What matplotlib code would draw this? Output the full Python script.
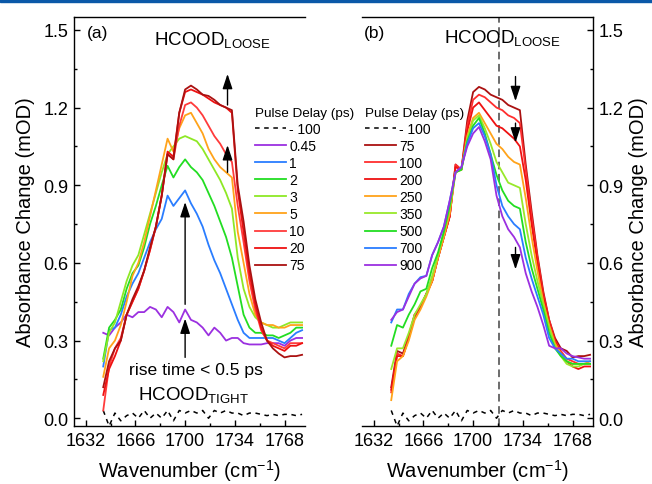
import numpy as np
import matplotlib
matplotlib.use('Agg')
import matplotlib.pyplot as plt
from matplotlib.ticker import MultipleLocator, FormatStrFormatter
from matplotlib.patches import Rectangle

plt.rcParams['font.family'] = ['Liberation Sans', 'DejaVu Sans']
plt.rcParams['mathtext.fontset'] = 'custom'
plt.rcParams['mathtext.rm'] = 'Liberation Sans'
plt.rcParams['mathtext.it'] = 'Liberation Sans:italic'
plt.rcParams['mathtext.bf'] = 'Liberation Sans:bold'

# wavenumber sampling (cm-1)
wavenumber = np.arange(1644, 1781, 4)

# -100 ps trace (same in both panels)
neg100 = [0.03, -0.03, 0.02, -0.01, 0.01, 0.02, 0.00, 0.03, 0.00, 0.02, 0.00, 0.03, -0.01, 0.03, 0.02, 0.03, 0.02, 0.03,
          0.00, 0.03, 0.02, 0.03, 0.02, 0.02, 0.01, 0.02, 0.02, 0.015, 0.01, 0.015, 0.01, 0.015, 0.015, 0.01, 0.015]

# panel (a): early delays
a_045 = [0.33, 0.32, 0.35, 0.37, 0.40, 0.39, 0.41, 0.41, 0.43, 0.42, 0.39, 0.43, 0.41, 0.37, 0.42, 0.38, 0.37, 0.35,
         0.32, 0.35, 0.33, 0.30, 0.31, 0.31, 0.29, 0.285, 0.285, 0.285, 0.29, 0.29, 0.29, 0.28, 0.30, 0.31, 0.31]
a_1 = [0.20, 0.34, 0.35, 0.40, 0.47, 0.52, 0.56, 0.62, 0.68, 0.73, 0.77, 0.86, 0.82, 0.85, 0.88, 0.83, 0.79, 0.74,
       0.67, 0.61, 0.56, 0.50, 0.44, 0.38, 0.33, 0.31, 0.31, 0.31, 0.31, 0.31, 0.30, 0.29, 0.31, 0.33, 0.34]
a_2 = [0.23, 0.35, 0.38, 0.42, 0.50, 0.56, 0.59, 0.66, 0.75, 0.82, 0.90, 0.975, 0.93, 0.97, 1.00, 0.97, 0.95, 0.92,
       0.87, 0.82, 0.76, 0.70, 0.62, 0.51, 0.40, 0.35, 0.33, 0.33, 0.32, 0.32, 0.31, 0.32, 0.33, 0.35, 0.35]
a_3 = [0.22, 0.33, 0.37, 0.45, 0.53, 0.59, 0.63, 0.71, 0.79, 0.87, 0.95, 1.02, 1.05, 1.08, 1.09, 1.08, 1.07, 1.04,
       1.00, 0.96, 0.92, 0.87, 0.81, 0.62, 0.50, 0.43, 0.39, 0.37, 0.36, 0.35, 0.35, 0.36, 0.37, 0.37, 0.37]
a_5 = [0.16, 0.27, 0.30, 0.36, 0.45, 0.55, 0.60, 0.68, 0.78, 0.88, 0.98, 1.08, 1.03, 1.12, 1.17, 1.18, 1.14, 1.10,
       1.04, 1.00, 0.97, 0.95, 0.93, 0.72, 0.60, 0.48, 0.40, 0.37, 0.36, 0.36, 0.35, 0.35, 0.36, 0.36, 0.36]
a_10 = [0.03, 0.20, 0.27, 0.31, 0.40, 0.45, 0.50, 0.57, 0.65, 0.74, 0.86, 1.02, 1.00, 1.13, 1.21, 1.22, 1.20, 1.17,
        1.13, 1.09, 1.06, 1.02, 0.99, 0.82, 0.68, 0.53, 0.42, 0.34, 0.30, 0.29, 0.28, 0.27, 0.29, 0.29, 0.29]
a_20 = [0.09, 0.19, 0.24, 0.30, 0.40, 0.45, 0.50, 0.57, 0.65, 0.74, 0.86, 1.03, 1.01, 1.18, 1.26, 1.27, 1.26, 1.25,
        1.235, 1.22, 1.21, 1.20, 1.18, 0.88, 0.72, 0.56, 0.44, 0.35, 0.30, 0.28, 0.27, 0.26, 0.28, 0.28, 0.29]
a_75 = [0.12, 0.22, 0.27, 0.30, 0.40, 0.46, 0.51, 0.57, 0.66, 0.74, 0.86, 1.02, 1.00, 1.18, 1.27, 1.285, 1.27, 1.25,
        1.245, 1.23, 1.21, 1.20, 1.19, 0.90, 0.76, 0.59, 0.46, 0.37, 0.30, 0.27, 0.25, 0.235, 0.24, 0.24, 0.245]

# panel (b): late delays
b_75 = [0.12, 0.26, 0.25, 0.32, 0.40, 0.43, 0.48, 0.53, 0.62, 0.70, 0.78, 0.98, 0.96, 1.15, 1.26, 1.28, 1.27, 1.25,
        1.24, 1.23, 1.21, 1.20, 1.19, 0.98, 0.80, 0.63, 0.49, 0.38, 0.31, 0.27, 0.26, 0.235, 0.24, 0.24, 0.245]
b_100 = [0.10, 0.25, 0.24, 0.31, 0.40, 0.43, 0.48, 0.53, 0.62, 0.70, 0.78, 0.98, 0.96, 1.13, 1.23, 1.25, 1.24, 1.22,
         1.20, 1.19, 1.17, 1.16, 1.14, 0.96, 0.78, 0.62, 0.48, 0.38, 0.30, 0.26, 0.23, 0.22, 0.21, 0.21, 0.21]
b_200 = [0.11, 0.24, 0.24, 0.31, 0.39, 0.43, 0.48, 0.53, 0.62, 0.70, 0.78, 0.97, 0.96, 1.11, 1.20, 1.22, 1.19, 1.16,
         1.13, 1.12, 1.10, 1.08, 1.05, 0.92, 0.75, 0.60, 0.47, 0.37, 0.30, 0.25, 0.22, 0.20, 0.19, 0.20, 0.20]
b_250 = [0.07, 0.22, 0.24, 0.30, 0.38, 0.42, 0.47, 0.53, 0.62, 0.70, 0.79, 0.95, 0.96, 1.09, 1.16, 1.18, 1.14, 1.10,
         1.06, 1.04, 1.01, 0.99, 0.98, 0.85, 0.70, 0.57, 0.45, 0.36, 0.29, 0.25, 0.22, 0.21, 0.21, 0.21, 0.22]
b_350 = [0.19, 0.27, 0.27, 0.33, 0.40, 0.44, 0.48, 0.55, 0.63, 0.72, 0.81, 0.95, 0.96, 1.08, 1.15, 1.17, 1.12, 1.06,
         0.99, 0.95, 0.91, 0.90, 0.89, 0.75, 0.63, 0.53, 0.44, 0.35, 0.28, 0.24, 0.21, 0.20, 0.20, 0.21, 0.21]
b_500 = [0.28, 0.36, 0.35, 0.40, 0.44, 0.49, 0.50, 0.58, 0.64, 0.72, 0.82, 0.95, 0.96, 1.07, 1.13, 1.16, 1.10, 1.02,
         0.94, 0.88, 0.84, 0.82, 0.81, 0.68, 0.58, 0.50, 0.42, 0.33, 0.27, 0.24, 0.22, 0.21, 0.21, 0.21, 0.21]
b_700 = [0.37, 0.42, 0.42, 0.48, 0.52, 0.545, 0.55, 0.63, 0.68, 0.74, 0.84, 0.95, 0.97, 1.06, 1.12, 1.14, 1.09, 1.02,
         0.90, 0.82, 0.78, 0.75, 0.73, 0.62, 0.54, 0.47, 0.40, 0.31, 0.27, 0.25, 0.23, 0.23, 0.22, 0.22, 0.22]
b_900 = [0.38, 0.41, 0.42, 0.47, 0.52, 0.54, 0.55, 0.63, 0.68, 0.74, 0.84, 0.95, 0.97, 1.05, 1.10, 1.125, 1.07, 1.00,
         0.86, 0.78, 0.73, 0.70, 0.66, 0.56, 0.49, 0.43, 0.36, 0.28, 0.27, 0.27, 0.25, 0.24, 0.235, 0.23, 0.23]

a_labels = ['- 100', '0.45', '1', '2', '3', '5', '10', '20', '75']
a_series = [neg100, a_045, a_1, a_2, a_3, a_5, a_10, a_20, a_75]
a_colors = ['black', '#9b30e0', '#2a7dff', '#22dd22', '#8ee825', '#ffa31a', '#ff3b3b', '#ee1111', '#aa1111']

b_labels = ['- 100', '75', '100', '200', '250', '350', '500', '700', '900']
b_series = [neg100, b_75, b_100, b_200, b_250, b_350, b_500, b_700, b_900]
b_colors = ['black', '#aa1111', '#ff2e2e', '#ee1111', '#ffa31a', '#99e82a', '#22dd22', '#2a7dff', '#9b30e0']

xticks = [1632, 1666, 1700, 1734, 1768]
vline_pos = 1718


def style_axis(ax, side):
    ax.set_xlim(1624, 1782)
    ax.set_ylim(-0.03, 1.55)
    ax.set_xticks(xticks)
    ax.xaxis.set_minor_locator(MultipleLocator(17))
    ax.yaxis.set_major_locator(MultipleLocator(0.3))
    ax.yaxis.set_minor_locator(MultipleLocator(0.15))
    ax.yaxis.set_major_formatter(FormatStrFormatter('%.1f'))
    ax.tick_params(which='both', direction='in', top=False, labelsize=13, pad=4, width=1)
    ax.tick_params(which='major', length=4.5)
    ax.tick_params(which='minor', length=2.5)
    if side == 'left':
        ax.spines['right'].set_visible(False)
        ax.tick_params(which='both', left=True, right=False)
    else:
        ax.spines['left'].set_visible(False)
        ax.yaxis.tick_right()
        ax.yaxis.set_label_position('right')
        ax.tick_params(which='both', left=False, right=True)
    for s in ax.spines.values():
        s.set_linewidth(1)
    ax.set_xlabel('Wavenumber (cm$^{-1}$)', fontsize=14.5, labelpad=6)
    ax.set_ylabel('Absorbance Change (mOD)', fontsize=14.5, labelpad=6 if side == 'left' else 4)


def draw_spectra(ax, series, labels, colors):
    for vals, lab, col in zip(series, labels, colors):
        if lab == '- 100':
            ax.plot(wavenumber, vals, color=col, lw=1.1, dashes=(3, 3), label=lab)
        else:
            ax.plot(wavenumber, vals, color=col, lw=1.3, label=lab)


def arrow(ax, x, y0, y1):
    ax.annotate('', xy=(x, y1), xytext=(x, y0),
                arrowprops=dict(arrowstyle='-|>,head_width=0.3,head_length=0.9', color='black', lw=1,
                                shrinkA=0, shrinkB=0))


def add_legend(ax, anchor):
    return ax.legend(loc='upper left', bbox_to_anchor=anchor, frameon=False, fontsize=10,
                     title='Pulse Delay (ps)', title_fontsize=9.7, handlelength=2.2, handletextpad=0.25,
                     labelspacing=0.22, borderpad=0, borderaxespad=0, alignment='left')


fig = plt.figure(figsize=(6.52, 4.85), dpi=100)
fig.patches.append(Rectangle((0, 1 - 3 / 485), 1, 3 / 485, transform=fig.transFigure,
                             color='#0a58a8', zorder=10))

ax_a = fig.add_axes([0.1135, 0.1196, 0.3543, 0.8433])
ax_b = fig.add_axes([0.5552, 0.1196, 0.3543, 0.8433])

# panel (a)
draw_spectra(ax_a, a_series, a_labels, a_colors)
style_axis(ax_a, 'left')
add_legend(ax_a, (0.785, 0.78))
ax_a.text(0.056, 0.961, '(a)', transform=ax_a.transAxes, fontsize=12.5, ha='left', va='center')
ax_a.text(0.346, 0.934, r'HCOOD$_{\mathrm{LOOSE}}$', transform=ax_a.transAxes, fontsize=13.5,
          ha='left', va='baseline')
ax_a.text(0.528, 0.137, 'rise time < 0.5 ps', transform=ax_a.transAxes, fontsize=12.6,
          ha='center', va='center')
ax_a.text(0.277, 0.066, r'HCOOD$_{\mathrm{TIGHT}}$', transform=ax_a.transAxes, fontsize=13.5,
          ha='left', va='baseline')
arrow(ax_a, 1700, 0.235, 0.385)
arrow(ax_a, 1700, 0.44, 0.835)
arrow(ax_a, 1729, 1.21, 1.33)
arrow(ax_a, 1729, 0.95, 1.055)

# panel (b)
ax_b.axvline(vline_pos, color='#444444', lw=1.1, dashes=(5, 3), zorder=1)
draw_spectra(ax_b, b_series, b_labels, b_colors)
style_axis(ax_b, 'right')
add_legend(ax_b, (0.013, 0.78))
ax_b.text(0.01, 0.961, '(b)', transform=ax_b.transAxes, fontsize=12.5, ha='left', va='center')
ax_b.text(0.355, 0.939, r'HCOOD$_{\mathrm{LOOSE}}$', transform=ax_b.transAxes, fontsize=13.5,
          ha='left', va='baseline')
arrow(ax_b, 1729, 1.32, 1.225)
arrow(ax_b, 1729, 1.14, 1.065)
arrow(ax_b, 1729, 0.66, 0.575)

fig.savefig('out.png', dpi=100)
